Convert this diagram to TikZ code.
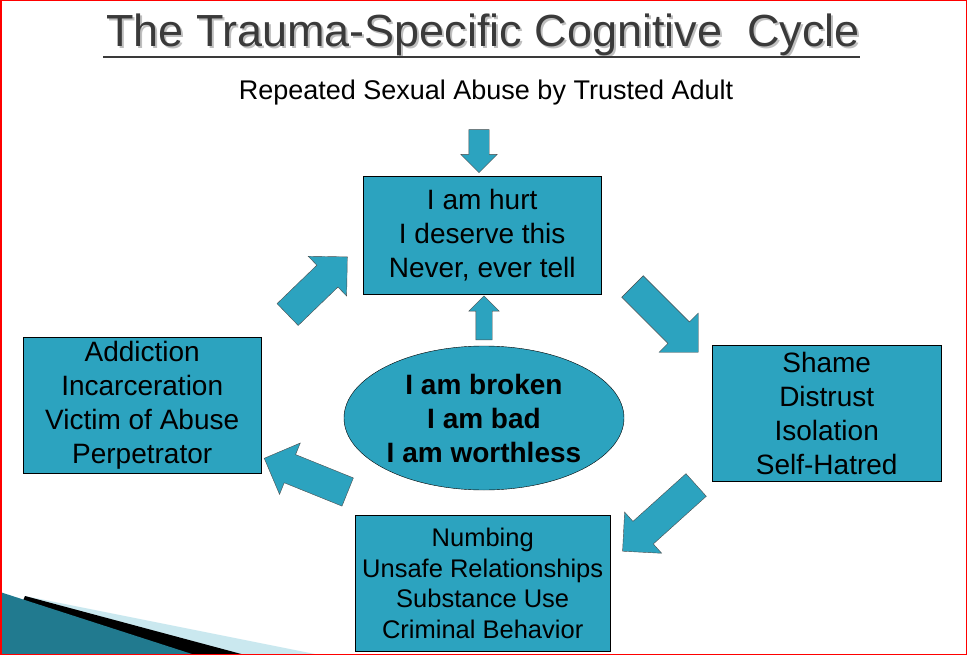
\documentclass[tikz,border=0pt]{standalone}
\usepackage{fontspec}
\setmainfont{Liberation Sans}
\usetikzlibrary{shapes.arrows,shapes.geometric}
\definecolor{teal}{HTML}{2CA3BF}
\definecolor{titlegray}{HTML}{3A3A3A}
\tikzset{
  box/.style={draw=black, fill=teal, align=center, anchor=north west, inner sep=0pt},
  barrow/.style n args={3}{single arrow, draw=black!70, thin, fill=teal, minimum height=#1,
    inner sep=#2/2, single arrow head extend=(#3-#2)/2, single arrow head indent=0pt},
}
\begin{document}
\begin{tikzpicture}[x=1pt, y=-1pt]
\useasboundingbox (0,0) rectangle (967,655);
% corner decoration
\fill[teal!25] (25,596) -- (320,655) -- (0,655) -- cycle;
\fill[black] (25,596) -- (245,655) -- (0,655) -- cycle;
\fill[teal!75!black] (0,592) -- (195,655) -- (0,655) -- cycle;
\draw[red, line width=1.5pt] (0.75,0.75) rectangle (966.25,654.25);
% title
\node[text=black!25, font=\fontsize{45}{50}\selectfont] at (485,37) {The Trauma-Specific Cognitive\ \ Cycle};
\node[text=titlegray, font=\fontsize{45}{50}\selectfont] (title) at (483,35) {The Trauma-Specific Cognitive\ \ Cycle};
\draw[titlegray, line width=2pt] (103,57) -- (860,57);
\node[font=\fontsize{27}{30}\selectfont] (cause) at (486,93) {Repeated Sexual Abuse by Trusted Adult};
% boxes
\node[box, minimum width=238pt, minimum height=118pt, font=\fontsize{28}{34}\selectfont] (hurt) at (363,176)
  {I am hurt\\ I deserve this\\ Never, ever tell};
\node[box, minimum width=229pt, minimum height=136pt, font=\fontsize{28}{34}\selectfont] (shame) at (712,345)
  {Shame\\ Distrust\\ Isolation\\ Self-Hatred};
\node[box, minimum width=255pt, minimum height=136pt, font=\fontsize{25.5}{30.5}\selectfont] (numb) at (355,515)
  {Numbing\\ Unsafe Relationships\\ Substance Use\\ Criminal Behavior};
\node[box, minimum width=238pt, minimum height=136pt, font=\fontsize{28}{34}\selectfont] (addict) at (23,337)
  {Addiction\\ Incarceration\\ Victim of Abuse\\ Perpetrator};
\node[draw=black, fill=teal, ellipse, minimum width=280pt, minimum height=144pt, inner sep=0pt, align=center,
  font=\bfseries\fontsize{28}{34}\selectfont] (core) at (484,418) {I am broken\\ I am bad\\ I am worthless};
% block arrows
\node[barrow={43pt}{20pt}{36pt}, rotate=-90] (a0) at (479,146) {};
\node[barrow={44pt}{16pt}{30pt}, rotate=90] (a1) at (484,322) {};
\node[barrow={93pt}{30pt}{55pt}, rotate=-45] (a2) at (660,314) {};
\node[barrow={99pt}{30pt}{55pt}, rotate=222] (a3) at (665,513) {};
\node[barrow={90pt}{30pt}{55pt}, rotate=158] (a4) at (313,478) {};
\node[barrow={83pt}{30pt}{55pt}, rotate=44] (a5) at (312,291) {};
\end{tikzpicture}
\end{document}
